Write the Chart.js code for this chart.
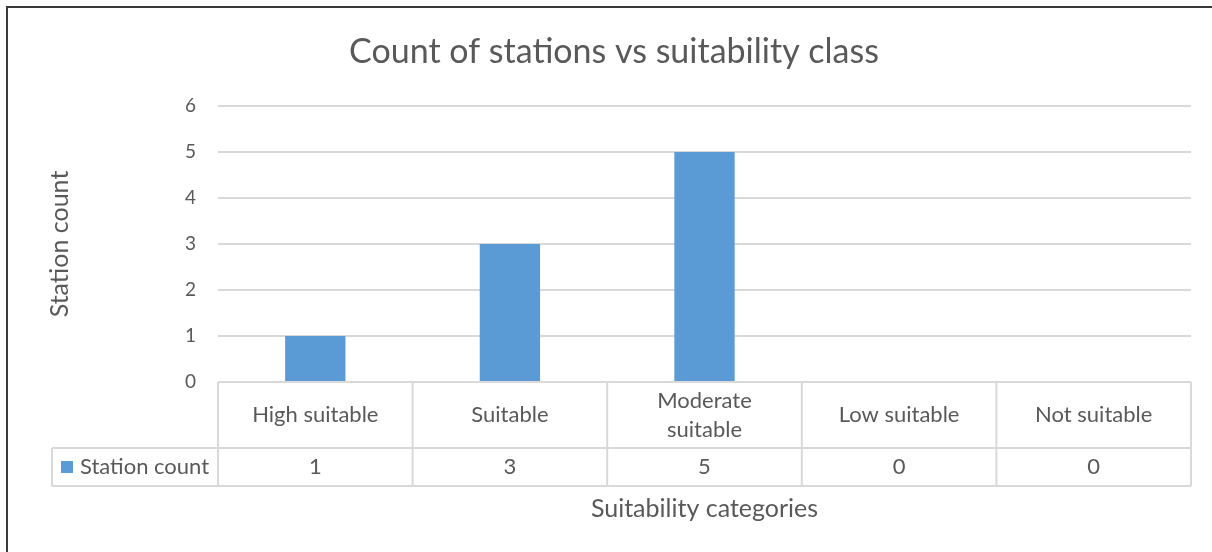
<!DOCTYPE html>
<html>
<head>
<meta charset="utf-8">
<script src="https://cdn.jsdelivr.net/npm/chart.js@4.4.0/dist/chart.umd.min.js"></script>
<style>
  html, body { margin: 0; padding: 0; background: #fff; }
  #wrap { width: 1212px; height: 552px; position: relative; }
</style>
</head>
<body>
<div id="wrap"><canvas id="chart"></canvas></div>
<script>
// data
const categories = ['High suitable', 'Suitable', ['Moderate', 'suitable'], 'Low suitable', 'Not suitable'];
const stationCount = [1, 3, 5, 0, 0];
const seriesName = 'Station count';
const yTicks = [0, 1, 2, 3, 4, 5, 6];

const textColor = '#595959';
const lineColor = '#d9d9d9';
const barColor = '#5b9bd5';
const fontFamily = 'Lato, "Open Sans", sans-serif';

// draws the Excel style data table under the plot + the outer frame
const dataTable = {
  id: 'dataTable',
  afterDraw(chart) {
    const ctx = chart.ctx;
    const x = chart.scales.x;
    const area = chart.chartArea;
    const catW = x.getPixelForValue(1) - x.getPixelForValue(0);
    const top = area.bottom;
    const mid = top + 66;
    const bot = top + 104;
    const right = area.right;

    ctx.save();
    ctx.strokeStyle = lineColor;
    ctx.lineWidth = 2;
    ctx.beginPath();
    // horizontal lines
    ctx.moveTo(52, mid); ctx.lineTo(right, mid);
    ctx.moveTo(52, bot); ctx.lineTo(right, bot);
    // vertical lines at category edges
    for (let i = 0; i <= categories.length; i++) {
      const ex = x.getPixelForValue(0) - catW / 2 + i * catW;
      ctx.moveTo(ex, top); ctx.lineTo(ex, bot);
    }
    ctx.moveTo(52, mid); ctx.lineTo(52, bot);
    ctx.stroke();

    ctx.fillStyle = textColor;
    ctx.font = '22px ' + fontFamily;
    ctx.textAlign = 'center';
    ctx.textBaseline = 'middle';
    categories.forEach((c, i) => {
      const cx = x.getPixelForValue(i);
      const lines = Array.isArray(c) ? c : [c];
      const lh = 29;
      const y0 = (top + mid) / 2 - (lines.length - 1) * lh / 2;
      lines.forEach((l, j) => ctx.fillText(l, cx, y0 + j * lh));
      ctx.fillText(String(stationCount[i]), cx, (mid + bot) / 2);
    });

    // legend key
    ctx.fillStyle = barColor;
    ctx.fillRect(61, (mid + bot) / 2 - 6, 12, 12);
    ctx.fillStyle = textColor;
    ctx.textAlign = 'left';
    ctx.fillText(seriesName, 80, (mid + bot) / 2);

    // outer frame (only top and left are visible)
    ctx.strokeStyle = '#3a3a3a';
    ctx.lineWidth = 2;
    ctx.beginPath();
    ctx.moveTo(7, chart.height); ctx.lineTo(7, 7); ctx.lineTo(chart.width, 7);
    ctx.stroke();
    ctx.restore();
  }
};

new Chart(document.getElementById('chart'), {
  type: 'bar',
  data: {
    labels: categories,
    datasets: [{
      label: seriesName,
      data: stationCount,
      backgroundColor: barColor,
      borderWidth: 0,
      barPercentage: 0.31,
      categoryPercentage: 1
    }]
  },
  options: {
    responsive: true,
    maintainAspectRatio: false,
    animation: false,
    layout: { padding: { top: 0, right: 21, bottom: 28, left: 37 } },
    plugins: {
      legend: { display: false },
      tooltip: { enabled: false },
      title: {
        display: true,
        text: 'Count of stations vs suitability class',
        color: textColor,
        font: { family: fontFamily, size: 34, weight: 'normal' },
        padding: { top: 31.6, bottom: 33.6 }
      }
    },
    scales: {
      x: {
        grid: { display: false, drawTicks: false },
        border: { display: false },
        ticks: { display: false },
        title: {
          display: true,
          text: 'Suitability categories',
          color: textColor,
          font: { family: fontFamily, size: 25 },
          padding: { top: 112, bottom: 0 }
        }
      },
      y: {
        min: 0,
        max: 6,
        afterFit(scale) { scale.width = 181; },
        afterBuildTicks(scale) { scale.ticks = yTicks.map(v => ({ value: v })); },
        grid: { color: lineColor, lineWidth: 2, drawTicks: false },
        border: { display: false },
        ticks: {
          color: textColor,
          font: { family: fontFamily, size: 19 },
          padding: 22
        },
        title: {
          display: true,
          text: 'Station count',
          color: textColor,
          font: { family: fontFamily, size: 25 },
          padding: { top: 8, bottom: 0 }
        }
      }
    }
  },
  plugins: [dataTable]
});
</script>
</body>
</html>
